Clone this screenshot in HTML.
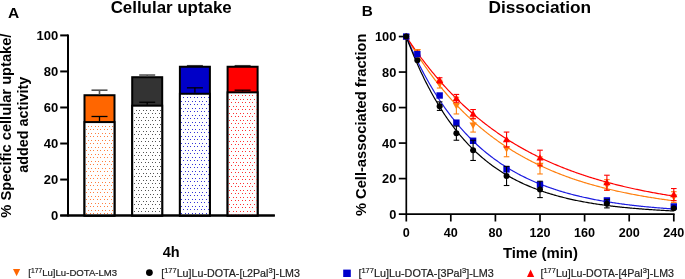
<!DOCTYPE html><html><head><meta charset="utf-8"><style>html,body{margin:0;padding:0;background:#fff;width:685px;height:279px;overflow:hidden}svg{display:block;will-change:transform}</style></head><body>
<svg width="685" height="279" viewBox="0 0 685 279">
<defs>
<pattern id="po" x="86" y="199" width="7" height="7" patternUnits="userSpaceOnUse"><g fill="#ff8040" shape-rendering="crispEdges"><rect x="0" y="0" width="1" height="1"/><rect x="4" y="0" width="1" height="1"/><rect x="2" y="4" width="1" height="1"/><rect x="5" y="4" width="1" height="1"/></g></pattern>
<pattern id="pk" x="134" y="197" width="7" height="7" patternUnits="userSpaceOnUse"><g fill="#555" shape-rendering="crispEdges"><rect x="0" y="0" width="1" height="1"/><rect x="4" y="0" width="1" height="1"/><rect x="2" y="4" width="1" height="1"/><rect x="5" y="4" width="1" height="1"/></g></pattern>
<pattern id="pb" x="183" y="195" width="7" height="7" patternUnits="userSpaceOnUse"><g fill="#3535d8" shape-rendering="crispEdges"><rect x="0" y="0" width="1" height="1"/><rect x="4" y="0" width="1" height="1"/><rect x="2" y="4" width="1" height="1"/><rect x="5" y="4" width="1" height="1"/></g></pattern>
<pattern id="pr" x="231" y="193" width="7" height="7" patternUnits="userSpaceOnUse"><g fill="#ff3030" shape-rendering="crispEdges"><rect x="0" y="0" width="1" height="1"/><rect x="4" y="0" width="1" height="1"/><rect x="2" y="4" width="1" height="1"/><rect x="5" y="4" width="1" height="1"/></g></pattern>
<filter id="bl" x="-5%" y="-5%" width="110%" height="110%"><feGaussianBlur stdDeviation="0.45"/></filter>
</defs>
<text x="7.9" y="18.1" font-family="Liberation Sans, sans-serif" font-weight="bold" font-size="15.5">A</text>
<text x="171.2" y="12.6" font-family="Liberation Sans, sans-serif" font-weight="bold" font-size="16.9" text-anchor="middle">Cellular uptake</text>
<text x="361.8" y="16.4" font-family="Liberation Sans, sans-serif" font-weight="bold" font-size="15.3">B</text>
<text x="539.8" y="12.9" font-family="Liberation Sans, sans-serif" font-weight="bold" font-size="17.3" text-anchor="middle">Dissociation</text>
<g stroke="#000" stroke-width="2" fill="none">
<line x1="68" y1="34.39999999999998" x2="68" y2="216.6"/>
<line x1="60.2" y1="215.6" x2="274.8" y2="215.6"/>
<line x1="60.2" y1="179.56" x2="68" y2="179.56"/>
<line x1="60.2" y1="143.52" x2="68" y2="143.52"/>
<line x1="60.2" y1="107.48" x2="68" y2="107.48"/>
<line x1="60.2" y1="71.44" x2="68" y2="71.44"/>
<line x1="60.2" y1="35.40" x2="68" y2="35.40"/>
</g>
<text x="58.3" y="220.30" font-family="Liberation Sans, sans-serif" font-weight="bold" font-size="13" text-anchor="end">0</text>
<text x="58.3" y="184.26" font-family="Liberation Sans, sans-serif" font-weight="bold" font-size="13" text-anchor="end">20</text>
<text x="58.3" y="148.22" font-family="Liberation Sans, sans-serif" font-weight="bold" font-size="13" text-anchor="end">40</text>
<text x="58.3" y="112.18" font-family="Liberation Sans, sans-serif" font-weight="bold" font-size="13" text-anchor="end">60</text>
<text x="58.3" y="76.14" font-family="Liberation Sans, sans-serif" font-weight="bold" font-size="13" text-anchor="end">80</text>
<text x="58.3" y="40.10" font-family="Liberation Sans, sans-serif" font-weight="bold" font-size="13" text-anchor="end">100</text>
<rect x="84.50" y="95.23" width="30" height="120.37" fill="#ff6600" stroke="#000" stroke-width="2"/>
<g stroke="#555" stroke-width="1.6"><line x1="99.50" y1="90.18" x2="99.50" y2="94.23"/><line x1="91.50" y1="90.18" x2="107.50" y2="90.18"/></g>
<g stroke="#000" stroke-width="1.3"><line x1="99.50" y1="116.49" x2="99.50" y2="121.08"/><line x1="91.50" y1="116.49" x2="107.50" y2="116.49"/></g>
<rect x="84.50" y="122.08" width="30" height="93.52" fill="#fff" stroke="#000" stroke-width="2"/>
<rect x="85.50" y="123.08" width="28" height="91.52" fill="url(#po)" filter="url(#bl)"/>
<rect x="132.20" y="77.21" width="30" height="138.39" fill="#333333" stroke="#000" stroke-width="2"/>
<g stroke="#555" stroke-width="1.6"><line x1="147.20" y1="75.04" x2="147.20" y2="76.21"/><line x1="139.20" y1="75.04" x2="155.20" y2="75.04"/></g>
<g stroke="#000" stroke-width="1.3"><line x1="147.20" y1="102.25" x2="147.20" y2="104.68"/><line x1="139.20" y1="102.25" x2="155.20" y2="102.25"/></g>
<rect x="132.20" y="105.68" width="30" height="109.92" fill="#fff" stroke="#000" stroke-width="2"/>
<rect x="133.20" y="106.68" width="28" height="107.92" fill="url(#pk)" filter="url(#bl)"/>
<rect x="179.90" y="66.75" width="30" height="148.85" fill="#0000c8" stroke="#000" stroke-width="2"/>
<g stroke="#333" stroke-width="1.1"><line x1="194.90" y1="65.49" x2="194.90" y2="65.75"/><line x1="186.90" y1="65.49" x2="202.90" y2="65.49"/></g>
<g stroke="#000" stroke-width="1.3"><line x1="194.90" y1="87.84" x2="194.90" y2="92.78"/><line x1="186.90" y1="87.84" x2="202.90" y2="87.84"/></g>
<rect x="179.90" y="93.78" width="30" height="121.82" fill="#fff" stroke="#000" stroke-width="2"/>
<rect x="180.90" y="94.78" width="28" height="119.82" fill="url(#pb)" filter="url(#bl)"/>
<rect x="227.60" y="66.75" width="30" height="148.85" fill="#ff0000" stroke="#000" stroke-width="2"/>
<g stroke="#333" stroke-width="1.1"><line x1="242.60" y1="65.49" x2="242.60" y2="65.75"/><line x1="234.60" y1="65.49" x2="250.60" y2="65.49"/></g>
<g stroke="#000" stroke-width="1.3"><line x1="242.60" y1="90.18" x2="242.60" y2="91.34"/><line x1="234.60" y1="90.18" x2="250.60" y2="90.18"/></g>
<rect x="227.60" y="92.34" width="30" height="123.26" fill="#fff" stroke="#000" stroke-width="2"/>
<rect x="228.60" y="93.34" width="28" height="121.26" fill="url(#pr)" filter="url(#bl)"/>
<line x1="60.2" y1="215.6" x2="274.8" y2="215.6" stroke="#000" stroke-width="2"/>
<text x="171.2" y="257" font-family="Liberation Sans, sans-serif" font-weight="bold" font-size="14.5" text-anchor="middle">4h</text>
<text transform="translate(10.8,125.6) rotate(-90)" font-family="Liberation Sans, sans-serif" font-weight="bold" font-size="14.66" text-anchor="middle">% Specific cellular uptake/</text>
<text transform="translate(27.5,124.8) rotate(-90)" font-family="Liberation Sans, sans-serif" font-weight="bold" font-size="14.4" text-anchor="middle">added activity</text>
<g stroke="#000" stroke-width="1.7" fill="none">
<line x1="406.3" y1="35.75" x2="406.3" y2="221.5"/>
<line x1="398.8" y1="214.1" x2="674.6" y2="214.1"/>
<line x1="398.8" y1="178.59" x2="406.3" y2="178.59"/>
<line x1="398.8" y1="143.08" x2="406.3" y2="143.08"/>
<line x1="398.8" y1="107.57" x2="406.3" y2="107.57"/>
<line x1="398.8" y1="72.06" x2="406.3" y2="72.06"/>
<line x1="398.8" y1="36.55" x2="406.3" y2="36.55"/>
<line x1="450.80" y1="214.1" x2="450.80" y2="221.5"/>
<line x1="495.40" y1="214.1" x2="495.40" y2="221.5"/>
<line x1="540.00" y1="214.1" x2="540.00" y2="221.5"/>
<line x1="584.60" y1="214.1" x2="584.60" y2="221.5"/>
<line x1="629.20" y1="214.1" x2="629.20" y2="221.5"/>
<line x1="673.80" y1="214.1" x2="673.80" y2="221.5"/>
</g>
<text x="396.3" y="218.70" font-family="Liberation Sans, sans-serif" font-weight="bold" font-size="12.8" text-anchor="end">0</text>
<text x="396.3" y="183.19" font-family="Liberation Sans, sans-serif" font-weight="bold" font-size="12.8" text-anchor="end">20</text>
<text x="396.3" y="147.68" font-family="Liberation Sans, sans-serif" font-weight="bold" font-size="12.8" text-anchor="end">40</text>
<text x="396.3" y="112.17" font-family="Liberation Sans, sans-serif" font-weight="bold" font-size="12.8" text-anchor="end">60</text>
<text x="396.3" y="76.66" font-family="Liberation Sans, sans-serif" font-weight="bold" font-size="12.8" text-anchor="end">80</text>
<text x="396.3" y="41.15" font-family="Liberation Sans, sans-serif" font-weight="bold" font-size="12.8" text-anchor="end">100</text>
<text x="406.20" y="236.9" font-family="Liberation Sans, sans-serif" font-weight="bold" font-size="12.6" text-anchor="middle">0</text>
<text x="450.80" y="236.9" font-family="Liberation Sans, sans-serif" font-weight="bold" font-size="12.6" text-anchor="middle">40</text>
<text x="495.40" y="236.9" font-family="Liberation Sans, sans-serif" font-weight="bold" font-size="12.6" text-anchor="middle">80</text>
<text x="540.00" y="236.9" font-family="Liberation Sans, sans-serif" font-weight="bold" font-size="12.6" text-anchor="middle">120</text>
<text x="584.60" y="236.9" font-family="Liberation Sans, sans-serif" font-weight="bold" font-size="12.6" text-anchor="middle">160</text>
<text x="629.20" y="236.9" font-family="Liberation Sans, sans-serif" font-weight="bold" font-size="12.6" text-anchor="middle">200</text>
<text x="673.80" y="236.9" font-family="Liberation Sans, sans-serif" font-weight="bold" font-size="12.6" text-anchor="middle">240</text>
<text x="540.4" y="258" font-family="Liberation Sans, sans-serif" font-weight="bold" font-size="14.9" text-anchor="middle">Time (min)</text>
<text transform="translate(366.3,124.8) rotate(-90)" font-family="Liberation Sans, sans-serif" font-weight="bold" font-size="14.66" text-anchor="middle">% Cell-associated fraction</text>
<polyline points="406.20,36.55 407.31,38.46 408.43,40.34 409.55,42.21 410.66,44.06 411.77,45.88 412.89,47.69 414.00,49.48 415.12,51.25 416.24,53.00 417.35,54.73 418.46,56.44 419.58,58.13 420.69,59.81 421.81,61.46 422.93,63.10 424.04,64.73 425.15,66.33 426.27,67.92 427.38,69.49 428.50,71.04 429.62,72.58 430.73,74.10 431.84,75.60 432.96,77.09 434.07,78.56 435.19,80.02 436.31,81.46 437.42,82.88 438.53,84.29 439.65,85.69 440.76,87.07 441.88,88.43 443.00,89.78 444.11,91.12 445.22,92.44 446.34,93.74 447.45,95.04 448.57,96.32 449.69,97.58 450.80,98.83 451.91,100.07 453.03,101.30 454.14,102.51 455.26,103.71 456.38,104.89 457.49,106.07 458.61,107.23 459.72,108.37 460.83,109.51 461.95,110.63 463.06,111.74 464.18,112.84 465.29,113.93 466.41,115.01 467.52,116.07 468.64,117.13 469.75,118.17 470.87,119.20 471.99,120.22 473.10,121.23 474.21,122.22 475.33,123.21 476.44,124.19 477.56,125.15 478.67,126.11 479.79,127.05 480.90,127.99 482.02,128.91 483.13,129.83 484.25,130.73 485.37,131.63 486.48,132.51 487.59,133.39 488.71,134.26 489.82,135.12 490.94,135.96 492.06,136.80 493.17,137.63 494.28,138.45 495.40,139.27 496.51,140.07 497.63,140.87 498.75,141.65 499.86,142.43 500.98,143.20 502.09,143.96 503.20,144.72 504.32,145.46 505.44,146.20 506.55,146.93 507.66,147.65 508.78,148.36 509.89,149.07 511.01,149.77 512.12,150.46 513.24,151.14 514.36,151.82 515.47,152.49 516.59,153.15 517.70,153.80 518.81,154.45 519.93,155.09 521.04,155.73 522.16,156.35 523.27,156.97 524.39,157.59 525.50,158.20 526.62,158.80 527.74,159.39 528.85,159.98 529.97,160.56 531.08,161.13 532.19,161.70 533.31,162.27 534.42,162.82 535.54,163.37 536.65,163.92 537.77,164.46 538.88,164.99 540.00,165.52 541.12,166.04 542.23,166.56 543.35,167.07 544.46,167.57 545.58,168.07 546.69,168.57 547.80,169.06 548.92,169.54 550.03,170.02 551.15,170.49 552.26,170.96 553.38,171.42 554.50,171.88 555.61,172.34 556.73,172.78 557.84,173.23 558.95,173.67 560.07,174.10 561.18,174.53 562.30,174.96 563.41,175.38 564.53,175.79 565.64,176.20 566.76,176.61 567.88,177.01 568.99,177.41 570.11,177.81 571.22,178.20 572.34,178.58 573.45,178.96 574.57,179.34 575.68,179.71 576.79,180.08 577.91,180.45 579.02,180.81 580.14,181.17 581.25,181.52 582.37,181.87 583.49,182.22 584.60,182.56 585.71,182.90 586.83,183.23 587.94,183.57 589.06,183.89 590.17,184.22 591.29,184.54 592.40,184.86 593.52,185.17 594.63,185.48 595.75,185.79 596.87,186.09 597.98,186.39 599.10,186.69 600.21,186.99 601.33,187.28 602.44,187.57 603.55,187.85 604.67,188.13 605.78,188.41 606.90,188.69 608.01,188.96 609.13,189.23 610.25,189.50 611.36,189.76 612.48,190.02 613.59,190.28 614.70,190.54 615.82,190.79 616.93,191.04 618.05,191.29 619.16,191.53 620.28,191.78 621.39,192.02 622.51,192.25 623.62,192.49 624.74,192.72 625.86,192.95 626.97,193.18 628.09,193.40 629.20,193.62 630.32,193.84 631.43,194.06 632.54,194.28 633.66,194.49 634.77,194.70 635.89,194.91 637.00,195.11 638.12,195.32 639.24,195.52 640.35,195.72 641.46,195.92 642.58,196.11 643.69,196.31 644.81,196.50 645.92,196.69 647.04,196.87 648.15,197.06 649.27,197.24 650.38,197.42 651.50,197.60 652.62,197.78 653.73,197.95 654.85,198.13 655.96,198.30 657.08,198.47 658.19,198.64 659.30,198.80 660.42,198.97 661.53,199.13 662.65,199.29 663.76,199.45 664.88,199.61 666.00,199.76 667.11,199.92 668.22,200.07 669.34,200.22 670.45,200.37 671.57,200.52 672.68,200.66 673.80,200.81" fill="none" stroke="#ff8010" stroke-width="1.2"/>
<polyline points="406.20,36.55 407.31,38.24 408.43,39.91 409.55,41.56 410.66,43.20 411.77,44.82 412.89,46.43 414.00,48.02 415.12,49.60 416.24,51.16 417.35,52.71 418.46,54.24 419.58,55.76 420.69,57.26 421.81,58.75 422.93,60.22 424.04,61.68 425.15,63.13 426.27,64.56 427.38,65.98 428.50,67.39 429.62,68.78 430.73,70.16 431.84,71.53 432.96,72.88 434.07,74.22 435.19,75.55 436.31,76.87 437.42,78.17 438.53,79.46 439.65,80.74 440.76,82.01 441.88,83.26 443.00,84.50 444.11,85.73 445.22,86.95 446.34,88.16 447.45,89.35 448.57,90.54 449.69,91.71 450.80,92.87 451.91,94.03 453.03,95.17 454.14,96.29 455.26,97.41 456.38,98.52 457.49,99.62 458.61,100.71 459.72,101.78 460.83,102.85 461.95,103.90 463.06,104.95 464.18,105.99 465.29,107.01 466.41,108.03 467.52,109.04 468.64,110.04 469.75,111.02 470.87,112.00 471.99,112.97 473.10,113.93 474.21,114.88 475.33,115.82 476.44,116.76 477.56,117.68 478.67,118.60 479.79,119.50 480.90,120.40 482.02,121.29 483.13,122.17 484.25,123.05 485.37,123.91 486.48,124.77 487.59,125.62 488.71,126.46 489.82,127.29 490.94,128.11 492.06,128.93 493.17,129.74 494.28,130.54 495.40,131.33 496.51,132.12 497.63,132.90 498.75,133.67 499.86,134.43 500.98,135.19 502.09,135.94 503.20,136.68 504.32,137.41 505.44,138.14 506.55,138.86 507.66,139.58 508.78,140.28 509.89,140.99 511.01,141.68 512.12,142.37 513.24,143.05 514.36,143.72 515.47,144.39 516.59,145.05 517.70,145.71 518.81,146.36 519.93,147.00 521.04,147.64 522.16,148.27 523.27,148.89 524.39,149.51 525.50,150.13 526.62,150.73 527.74,151.34 528.85,151.93 529.97,152.52 531.08,153.11 532.19,153.69 533.31,154.26 534.42,154.83 535.54,155.39 536.65,155.95 537.77,156.50 538.88,157.05 540.00,157.59 541.12,158.12 542.23,158.66 543.35,159.18 544.46,159.70 545.58,160.22 546.69,160.73 547.80,161.24 548.92,161.74 550.03,162.24 551.15,162.73 552.26,163.22 553.38,163.70 554.50,164.18 555.61,164.65 556.73,165.12 557.84,165.59 558.95,166.05 560.07,166.50 561.18,166.96 562.30,167.40 563.41,167.85 564.53,168.29 565.64,168.72 566.76,169.15 567.88,169.58 568.99,170.00 570.11,170.42 571.22,170.84 572.34,171.25 573.45,171.65 574.57,172.06 575.68,172.46 576.79,172.85 577.91,173.24 579.02,173.63 580.14,174.01 581.25,174.40 582.37,174.77 583.49,175.15 584.60,175.52 585.71,175.88 586.83,176.24 587.94,176.60 589.06,176.96 590.17,177.31 591.29,177.66 592.40,178.01 593.52,178.35 594.63,178.69 595.75,179.03 596.87,179.36 597.98,179.69 599.10,180.02 600.21,180.34 601.33,180.66 602.44,180.98 603.55,181.29 604.67,181.60 605.78,181.91 606.90,182.22 608.01,182.52 609.13,182.82 610.25,183.12 611.36,183.41 612.48,183.70 613.59,183.99 614.70,184.28 615.82,184.56 616.93,184.84 618.05,185.12 619.16,185.39 620.28,185.67 621.39,185.94 622.51,186.20 623.62,186.47 624.74,186.73 625.86,186.99 626.97,187.25 628.09,187.50 629.20,187.76 630.32,188.01 631.43,188.25 632.54,188.50 633.66,188.74 634.77,188.98 635.89,189.22 637.00,189.46 638.12,189.69 639.24,189.92 640.35,190.15 641.46,190.38 642.58,190.61 643.69,190.83 644.81,191.05 645.92,191.27 647.04,191.49 648.15,191.70 649.27,191.91 650.38,192.12 651.50,192.33 652.62,192.54 653.73,192.74 654.85,192.95 655.96,193.15 657.08,193.35 658.19,193.54 659.30,193.74 660.42,193.93 661.53,194.12 662.65,194.31 663.76,194.50 664.88,194.69 666.00,194.87 667.11,195.05 668.22,195.23 669.34,195.41 670.45,195.59 671.57,195.77 672.68,195.94 673.80,196.11" fill="none" stroke="#ff0000" stroke-width="1.2"/>
<polyline points="406.20,36.55 407.31,39.16 408.43,41.73 409.55,44.26 410.66,46.76 411.77,49.21 412.89,51.64 414.00,54.02 415.12,56.38 416.24,58.69 417.35,60.98 418.46,63.22 419.58,65.44 420.69,67.63 421.81,69.78 422.93,71.90 424.04,73.99 425.15,76.04 426.27,78.07 427.38,80.07 428.50,82.04 429.62,83.98 430.73,85.89 431.84,87.78 432.96,89.63 434.07,91.46 435.19,93.26 436.31,95.04 437.42,96.79 438.53,98.51 439.65,100.21 440.76,101.88 441.88,103.53 443.00,105.15 444.11,106.75 445.22,108.33 446.34,109.89 447.45,111.42 448.57,112.92 449.69,114.41 450.80,115.88 451.91,117.32 453.03,118.74 454.14,120.14 455.26,121.52 456.38,122.88 457.49,124.22 458.61,125.54 459.72,126.84 460.83,128.13 461.95,129.39 463.06,130.63 464.18,131.86 465.29,133.07 466.41,134.26 467.52,135.43 468.64,136.59 469.75,137.73 470.87,138.85 471.99,139.95 473.10,141.04 474.21,142.12 475.33,143.17 476.44,144.21 477.56,145.24 478.67,146.25 479.79,147.25 480.90,148.23 482.02,149.20 483.13,150.15 484.25,151.09 485.37,152.02 486.48,152.93 487.59,153.83 488.71,154.71 489.82,155.59 490.94,156.45 492.06,157.29 493.17,158.13 494.28,158.95 495.40,159.76 496.51,160.56 497.63,161.35 498.75,162.12 499.86,162.88 500.98,163.64 502.09,164.38 503.20,165.11 504.32,165.83 505.44,166.54 506.55,167.24 507.66,167.92 508.78,168.60 509.89,169.27 511.01,169.93 512.12,170.58 513.24,171.22 514.36,171.85 515.47,172.47 516.59,173.08 517.70,173.68 518.81,174.28 519.93,174.86 521.04,175.44 522.16,176.01 523.27,176.57 524.39,177.12 525.50,177.66 526.62,178.20 527.74,178.72 528.85,179.24 529.97,179.76 531.08,180.26 532.19,180.76 533.31,181.25 534.42,181.73 535.54,182.20 536.65,182.67 537.77,183.14 538.88,183.59 540.00,184.04 541.12,184.48 542.23,184.92 543.35,185.34 544.46,185.77 545.58,186.18 546.69,186.59 547.80,187.00 548.92,187.39 550.03,187.79 551.15,188.17 552.26,188.55 553.38,188.93 554.50,189.30 555.61,189.66 556.73,190.02 557.84,190.38 558.95,190.73 560.07,191.07 561.18,191.41 562.30,191.74 563.41,192.07 564.53,192.39 565.64,192.71 566.76,193.03 567.88,193.34 568.99,193.64 570.11,193.94 571.22,194.24 572.34,194.53 573.45,194.82 574.57,195.10 575.68,195.38 576.79,195.65 577.91,195.92 579.02,196.19 580.14,196.46 581.25,196.71 582.37,196.97 583.49,197.22 584.60,197.47 585.71,197.71 586.83,197.95 587.94,198.19 589.06,198.43 590.17,198.66 591.29,198.88 592.40,199.11 593.52,199.33 594.63,199.54 595.75,199.76 596.87,199.97 597.98,200.18 599.10,200.38 600.21,200.58 601.33,200.78 602.44,200.98 603.55,201.17 604.67,201.36 605.78,201.55 606.90,201.73 608.01,201.91 609.13,202.09 610.25,202.27 611.36,202.44 612.48,202.61 613.59,202.78 614.70,202.95 615.82,203.11 616.93,203.27 618.05,203.43 619.16,203.59 620.28,203.74 621.39,203.90 622.51,204.05 623.62,204.19 624.74,204.34 625.86,204.48 626.97,204.62 628.09,204.76 629.20,204.90 630.32,205.03 631.43,205.17 632.54,205.30 633.66,205.43 634.77,205.56 635.89,205.68 637.00,205.81 638.12,205.93 639.24,206.05 640.35,206.17 641.46,206.28 642.58,206.40 643.69,206.51 644.81,206.62 645.92,206.73 647.04,206.84 648.15,206.95 649.27,207.05 650.38,207.15 651.50,207.26 652.62,207.36 653.73,207.46 654.85,207.55 655.96,207.65 657.08,207.74 658.19,207.84 659.30,207.93 660.42,208.02 661.53,208.11 662.65,208.20 663.76,208.28 664.88,208.37 666.00,208.45 667.11,208.54 668.22,208.62 669.34,208.70 670.45,208.78 671.57,208.86 672.68,208.93 673.80,209.01" fill="none" stroke="#1c1ce0" stroke-width="1.2"/>
<polyline points="406.20,36.55 407.31,39.51 408.43,42.42 409.55,45.28 410.66,48.09 411.77,50.85 412.89,53.57 414.00,56.25 415.12,58.88 416.24,61.46 417.35,64.01 418.46,66.51 419.58,68.97 420.69,71.38 421.81,73.76 422.93,76.10 424.04,78.40 425.15,80.66 426.27,82.88 427.38,85.07 428.50,87.22 429.62,89.33 430.73,91.41 431.84,93.46 432.96,95.46 434.07,97.44 435.19,99.38 436.31,101.30 437.42,103.18 438.53,105.02 439.65,106.84 440.76,108.63 441.88,110.38 443.00,112.11 444.11,113.81 445.22,115.48 446.34,117.13 447.45,118.74 448.57,120.33 449.69,121.89 450.80,123.43 451.91,124.94 453.03,126.42 454.14,127.88 455.26,129.32 456.38,130.73 457.49,132.12 458.61,133.49 459.72,134.83 460.83,136.15 461.95,137.45 463.06,138.73 464.18,139.98 465.29,141.22 466.41,142.43 467.52,143.63 468.64,144.80 469.75,145.95 470.87,147.09 471.99,148.21 473.10,149.30 474.21,150.38 475.33,151.44 476.44,152.49 477.56,153.51 478.67,154.52 479.79,155.52 480.90,156.49 482.02,157.45 483.13,158.40 484.25,159.32 485.37,160.24 486.48,161.13 487.59,162.02 488.71,162.88 489.82,163.74 490.94,164.58 492.06,165.40 493.17,166.21 494.28,167.01 495.40,167.79 496.51,168.57 497.63,169.32 498.75,170.07 499.86,170.80 500.98,171.53 502.09,172.23 503.20,172.93 504.32,173.62 505.44,174.29 506.55,174.96 507.66,175.61 508.78,176.25 509.89,176.88 511.01,177.50 512.12,178.11 513.24,178.71 514.36,179.30 515.47,179.88 516.59,180.45 517.70,181.01 518.81,181.56 519.93,182.10 521.04,182.64 522.16,183.16 523.27,183.68 524.39,184.18 525.50,184.68 526.62,185.17 527.74,185.65 528.85,186.13 529.97,186.59 531.08,187.05 532.19,187.50 533.31,187.94 534.42,188.38 535.54,188.81 536.65,189.23 537.77,189.64 538.88,190.05 540.00,190.45 541.12,190.85 542.23,191.23 543.35,191.61 544.46,191.99 545.58,192.36 546.69,192.72 547.80,193.08 548.92,193.43 550.03,193.77 551.15,194.11 552.26,194.44 553.38,194.77 554.50,195.09 555.61,195.41 556.73,195.72 557.84,196.03 558.95,196.33 560.07,196.62 561.18,196.91 562.30,197.20 563.41,197.48 564.53,197.76 565.64,198.03 566.76,198.30 567.88,198.56 568.99,198.82 570.11,199.08 571.22,199.33 572.34,199.57 573.45,199.81 574.57,200.05 575.68,200.29 576.79,200.52 577.91,200.74 579.02,200.97 580.14,201.18 581.25,201.40 582.37,201.61 583.49,201.82 584.60,202.02 585.71,202.22 586.83,202.42 587.94,202.62 589.06,202.81 590.17,203.00 591.29,203.18 592.40,203.36 593.52,203.54 594.63,203.72 595.75,203.89 596.87,204.06 597.98,204.23 599.10,204.39 600.21,204.55 601.33,204.71 602.44,204.87 603.55,205.02 604.67,205.18 605.78,205.32 606.90,205.47 608.01,205.61 609.13,205.76 610.25,205.89 611.36,206.03 612.48,206.17 613.59,206.30 614.70,206.43 615.82,206.56 616.93,206.68 618.05,206.80 619.16,206.93 620.28,207.05 621.39,207.16 622.51,207.28 623.62,207.39 624.74,207.50 625.86,207.61 626.97,207.72 628.09,207.83 629.20,207.93 630.32,208.04 631.43,208.14 632.54,208.24 633.66,208.33 634.77,208.43 635.89,208.52 637.00,208.62 638.12,208.71 639.24,208.80 640.35,208.89 641.46,208.97 642.58,209.06 643.69,209.14 644.81,209.23 645.92,209.31 647.04,209.39 648.15,209.46 649.27,209.54 650.38,209.62 651.50,209.69 652.62,209.77 653.73,209.84 654.85,209.91 655.96,209.98 657.08,210.05 658.19,210.12 659.30,210.18 660.42,210.25 661.53,210.31 662.65,210.37 663.76,210.44 664.88,210.50 666.00,210.56 667.11,210.62 668.22,210.67 669.34,210.73 670.45,210.79 671.57,210.84 672.68,210.90 673.80,210.95" fill="none" stroke="#000000" stroke-width="1.2"/>
<path d="M406.20,40.35 L409.80,33.95 L402.60,33.95 Z" fill="#ff8010"/>
<path d="M417.35,55.44 L420.95,49.04 L413.75,49.04 Z" fill="#ff8010"/>
<g stroke="#ff8010" stroke-width="1.1"><line x1="439.65" y1="80.23" x2="439.65" y2="88.04"/><line x1="436.85" y1="80.23" x2="442.45" y2="80.23"/><line x1="436.85" y1="88.04" x2="442.45" y2="88.04"/></g>
<path d="M439.65,87.93 L443.25,81.53 L436.05,81.53 Z" fill="#ff8010"/>
<g stroke="#ff8010" stroke-width="1.1"><line x1="456.38" y1="97.27" x2="456.38" y2="113.96"/><line x1="453.57" y1="97.27" x2="459.18" y2="97.27"/><line x1="453.57" y1="113.96" x2="459.18" y2="113.96"/></g>
<path d="M456.38,109.42 L459.98,103.02 L452.77,103.02 Z" fill="#ff8010"/>
<g stroke="#ff8010" stroke-width="1.1"><line x1="473.10" y1="118.22" x2="473.10" y2="132.07"/><line x1="470.30" y1="118.22" x2="475.90" y2="118.22"/><line x1="470.30" y1="132.07" x2="475.90" y2="132.07"/></g>
<path d="M473.10,128.95 L476.70,122.55 L469.50,122.55 Z" fill="#ff8010"/>
<g stroke="#ff8010" stroke-width="1.1"><line x1="506.55" y1="140.77" x2="506.55" y2="156.75"/><line x1="503.75" y1="140.77" x2="509.35" y2="140.77"/><line x1="503.75" y1="156.75" x2="509.35" y2="156.75"/></g>
<path d="M506.55,152.56 L510.15,146.16 L502.95,146.16 Z" fill="#ff8010"/>
<g stroke="#ff8010" stroke-width="1.1"><line x1="540.00" y1="156.93" x2="540.00" y2="173.97"/><line x1="537.20" y1="156.93" x2="542.80" y2="156.93"/><line x1="537.20" y1="173.97" x2="542.80" y2="173.97"/></g>
<path d="M540.00,169.25 L543.60,162.85 L536.40,162.85 Z" fill="#ff8010"/>
<g stroke="#ff8010" stroke-width="1.1"><line x1="606.90" y1="179.66" x2="606.90" y2="190.31"/><line x1="604.10" y1="179.66" x2="609.70" y2="179.66"/><line x1="604.10" y1="190.31" x2="609.70" y2="190.31"/></g>
<path d="M606.90,188.78 L610.50,182.38 L603.30,182.38 Z" fill="#ff8010"/>
<g stroke="#ff8010" stroke-width="1.1"><line x1="673.80" y1="191.73" x2="673.80" y2="202.38"/><line x1="671.00" y1="191.73" x2="676.60" y2="191.73"/><line x1="671.00" y1="202.38" x2="676.60" y2="202.38"/></g>
<path d="M673.80,200.86 L677.40,194.46 L670.20,194.46 Z" fill="#ff8010"/>
<path d="M406.20,32.75 L409.80,39.15 L402.60,39.15 Z" fill="#ff0000"/>
<path d="M417.35,49.44 L420.95,55.84 L413.75,55.84 Z" fill="#ff0000"/>
<g stroke="#ff0000" stroke-width="1.1"><line x1="439.65" y1="77.74" x2="439.65" y2="83.07"/><line x1="436.85" y1="77.74" x2="442.45" y2="77.74"/><line x1="436.85" y1="83.07" x2="442.45" y2="83.07"/></g>
<path d="M439.65,76.60 L443.25,83.00 L436.05,83.00 Z" fill="#ff0000"/>
<g stroke="#ff0000" stroke-width="1.1"><line x1="456.38" y1="94.43" x2="456.38" y2="102.24"/><line x1="453.57" y1="94.43" x2="459.18" y2="94.43"/><line x1="453.57" y1="102.24" x2="459.18" y2="102.24"/></g>
<path d="M456.38,94.54 L459.98,100.94 L452.77,100.94 Z" fill="#ff0000"/>
<g stroke="#ff0000" stroke-width="1.1"><line x1="473.10" y1="109.52" x2="473.10" y2="118.76"/><line x1="470.30" y1="109.52" x2="475.90" y2="109.52"/><line x1="470.30" y1="118.76" x2="475.90" y2="118.76"/></g>
<path d="M473.10,110.34 L476.70,116.74 L469.50,116.74 Z" fill="#ff0000"/>
<g stroke="#ff0000" stroke-width="1.1"><line x1="506.55" y1="132.07" x2="506.55" y2="146.99"/><line x1="503.75" y1="132.07" x2="509.35" y2="132.07"/><line x1="503.75" y1="146.99" x2="509.35" y2="146.99"/></g>
<path d="M506.55,135.73 L510.15,142.13 L502.95,142.13 Z" fill="#ff0000"/>
<g stroke="#ff0000" stroke-width="1.1"><line x1="540.00" y1="150.18" x2="540.00" y2="165.81"/><line x1="537.20" y1="150.18" x2="542.80" y2="150.18"/><line x1="537.20" y1="165.81" x2="542.80" y2="165.81"/></g>
<path d="M540.00,154.19 L543.60,160.59 L536.40,160.59 Z" fill="#ff0000"/>
<g stroke="#ff0000" stroke-width="1.1"><line x1="606.90" y1="175.22" x2="606.90" y2="190.13"/><line x1="604.10" y1="175.22" x2="609.70" y2="175.22"/><line x1="604.10" y1="190.13" x2="609.70" y2="190.13"/></g>
<path d="M606.90,178.87 L610.50,185.27 L603.30,185.27 Z" fill="#ff0000"/>
<g stroke="#ff0000" stroke-width="1.1"><line x1="673.80" y1="188.53" x2="673.80" y2="200.61"/><line x1="671.00" y1="188.53" x2="676.60" y2="188.53"/><line x1="671.00" y1="200.61" x2="676.60" y2="200.61"/></g>
<path d="M673.80,190.77 L677.40,197.17 L670.20,197.17 Z" fill="#ff0000"/>
<rect x="403.00" y="33.35" width="6.4" height="6.4" fill="#0000cc"/>
<rect x="414.15" y="50.93" width="6.4" height="6.4" fill="#0000cc"/>
<rect x="436.45" y="92.30" width="6.4" height="6.4" fill="#0000cc"/>
<rect x="453.18" y="119.46" width="6.4" height="6.4" fill="#0000cc"/>
<rect x="469.90" y="137.57" width="6.4" height="6.4" fill="#0000cc"/>
<rect x="503.35" y="166.16" width="6.4" height="6.4" fill="#0000cc"/>
<rect x="536.80" y="181.43" width="6.4" height="6.4" fill="#0000cc"/>
<rect x="603.70" y="197.23" width="6.4" height="6.4" fill="#0000cc"/>
<rect x="670.60" y="203.27" width="6.4" height="6.4" fill="#0000cc"/>
<circle cx="406.20" cy="36.55" r="3" fill="#000000"/>
<circle cx="417.35" cy="60.16" r="3" fill="#000000"/>
<g stroke="#000000" stroke-width="1.1"><line x1="439.65" y1="101.89" x2="439.65" y2="110.41"/><line x1="436.85" y1="101.89" x2="442.45" y2="101.89"/><line x1="436.85" y1="110.41" x2="442.45" y2="110.41"/></g>
<circle cx="439.65" cy="106.15" r="3" fill="#000000"/>
<g stroke="#000000" stroke-width="1.1"><line x1="456.38" y1="126.04" x2="456.38" y2="140.24"/><line x1="453.57" y1="126.04" x2="459.18" y2="126.04"/><line x1="453.57" y1="140.24" x2="459.18" y2="140.24"/></g>
<circle cx="456.38" cy="133.14" r="3" fill="#000000"/>
<g stroke="#000000" stroke-width="1.1"><line x1="473.10" y1="140.24" x2="473.10" y2="160.48"/><line x1="470.30" y1="140.24" x2="475.90" y2="140.24"/><line x1="470.30" y1="160.48" x2="475.90" y2="160.48"/></g>
<circle cx="473.10" cy="150.36" r="3" fill="#000000"/>
<g stroke="#000000" stroke-width="1.1"><line x1="506.55" y1="166.34" x2="506.55" y2="185.51"/><line x1="503.75" y1="166.34" x2="509.35" y2="166.34"/><line x1="503.75" y1="185.51" x2="509.35" y2="185.51"/></g>
<circle cx="506.55" cy="175.93" r="3" fill="#000000"/>
<g stroke="#000000" stroke-width="1.1"><line x1="540.00" y1="181.25" x2="540.00" y2="197.59"/><line x1="537.20" y1="181.25" x2="542.80" y2="181.25"/><line x1="537.20" y1="197.59" x2="542.80" y2="197.59"/></g>
<circle cx="540.00" cy="189.42" r="3" fill="#000000"/>
<g stroke="#000000" stroke-width="1.1"><line x1="606.90" y1="199.72" x2="606.90" y2="207.89"/><line x1="604.10" y1="199.72" x2="609.70" y2="199.72"/><line x1="604.10" y1="207.89" x2="609.70" y2="207.89"/></g>
<circle cx="606.90" cy="203.80" r="3" fill="#000000"/>
<circle cx="673.80" cy="208.24" r="3" fill="#000000"/>
<path d="M13,269 L20.2,269 L16.6,276.2 Z" fill="#ff6600"/>
<text x="28.3" y="276.4" font-family="Liberation Sans, sans-serif" font-size="9.6" fill="#222" stroke="#222" stroke-width="0.2"><tspan>[</tspan><tspan dy="-3.26" font-size="6.72">177</tspan><tspan dy="3.26">Lu]Lu-DOTA-LM3</tspan></text>
<circle cx="149.4" cy="272.6" r="3.4" fill="#000"/>
<text x="161.2" y="276.9" font-family="Liberation Sans, sans-serif" font-size="10.7" fill="#222" stroke="#222" stroke-width="0.2"><tspan>[</tspan><tspan dy="-3.64" font-size="7.49">177</tspan><tspan dy="3.64">Lu]Lu-DOTA-[</tspan><tspan font-size="8.35">L</tspan><tspan>2Pal</tspan><tspan dy="-3.64" font-size="7.49">3</tspan><tspan dy="3.64">]-LM3</tspan></text>
<rect x="343.2" y="269.6" width="7.6" height="7.4" fill="#0000cc"/>
<text x="358.4" y="276.9" font-family="Liberation Sans, sans-serif" font-size="10.8" fill="#222" stroke="#222" stroke-width="0.2"><tspan>[</tspan><tspan dy="-3.67" font-size="7.56">177</tspan><tspan dy="3.67">Lu]Lu-DOTA-[3Pal</tspan><tspan dy="-3.67" font-size="7.56">3</tspan><tspan dy="3.67">]-LM3</tspan></text>
<path d="M530.6,269.6 L534.2,276.9 L527,276.9 Z" fill="#ff0000"/>
<text x="540.5" y="276.9" font-family="Liberation Sans, sans-serif" font-size="10.65" fill="#222" stroke="#222" stroke-width="0.2"><tspan>[</tspan><tspan dy="-3.62" font-size="7.46">177</tspan><tspan dy="3.62">Lu]Lu-DOTA-[4Pal</tspan><tspan dy="-3.62" font-size="7.46">3</tspan><tspan dy="3.62">]-LM3</tspan></text>
</svg></body></html>
